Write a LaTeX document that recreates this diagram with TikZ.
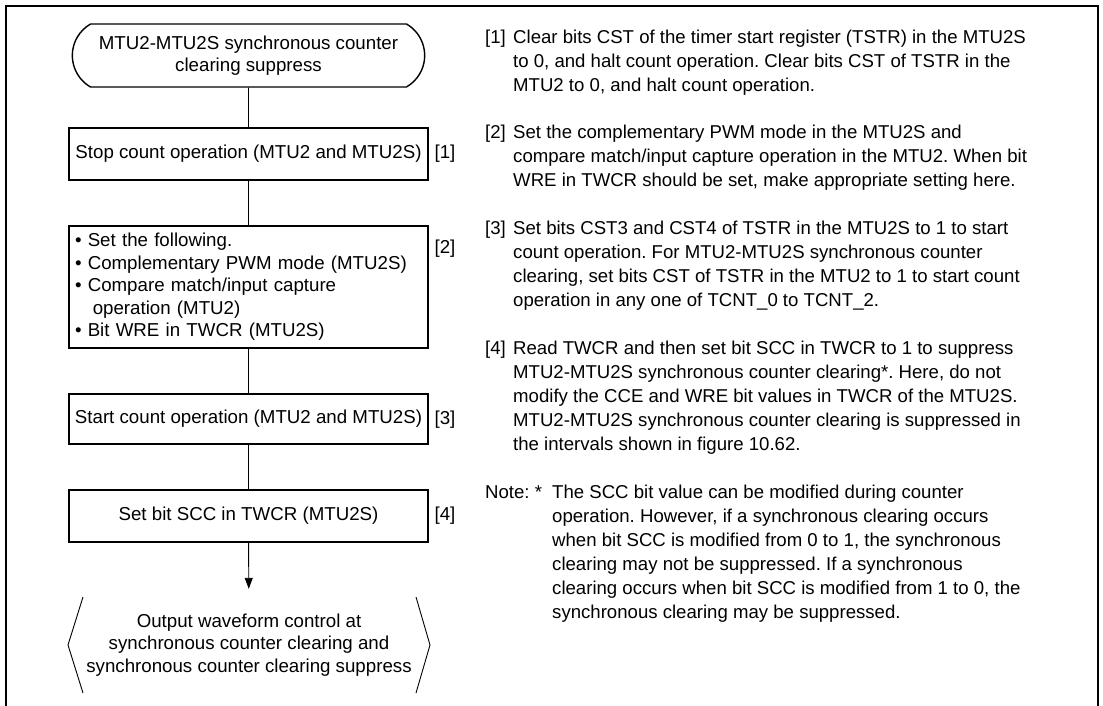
\documentclass[tikz,border=0pt]{standalone}
\usepackage{fontspec}
\setmainfont{Liberation Sans}
\usetikzlibrary{positioning,arrows.meta,calc,shapes.misc}

\newcommand{\bodyfont}{\fontsize{18.7}{22.5}\selectfont}
\newcommand{\notefont}{\fontsize{18.6}{24}\selectfont}
\frenchspacing

\begin{document}
\begin{tikzpicture}[
  x=1pt,y=-1pt,
  font=\bodyfont,
  >={Triangle[length=11pt,width=8pt]},
  frame/.style={line width=2pt},
  stepbox/.style={rectangle,draw,line width=1.8pt,minimum width=359pt,inner xsep=6pt},
  startbox/.style={rounded rectangle,rounded rectangle arc length=120,draw,line width=1.4pt,
                   minimum width=359pt,minimum height=63pt,align=center},
  link/.style={line width=0.9pt},
  tag/.style={inner sep=0pt},
  note/.style={font=\notefont,anchor=north west,inner sep=0pt,align=left},
]
\useasboundingbox (0,0) rectangle (1103,706);

%================================================================ FRAME ===
\draw[frame] (6,706) -- (6,6) -- (1098,6) -- (1098,706);

%============================================================== FLOWCHART ===
\node[startbox] (start) at (248.5,55.5)
  {MTU2-MTU2S synchronous counter\\clearing suppress};
\node[stepbox,minimum height=52pt] (stop) at (248.5,154)
  {Stop count operation (MTU2 and MTU2S)};
\node[stepbox,minimum height=122pt,text width=347pt,align=left] (setup) at (248.5,287)
  {\textbullet\ Set the following.\\
   \textbullet\ Complementary PWM mode (MTU2S)\\
   \textbullet\ Compare match/input capture\\
   \hspace*{0.95em}operation (MTU2)\\
   \textbullet\ Bit WRE in TWCR (MTU2S)};
\node[stepbox,minimum height=50pt] (run) at (248.5,419)
  {Start count operation (MTU2 and MTU2S)};
\node[stepbox,minimum height=52pt] (scc) at (248.5,516)
  {Set bit SCC in TWCR (MTU2S)};
\node[minimum width=361pt,minimum height=96pt,align=center] (out) at (249,645)
  {Output waveform control at\\synchronous counter clearing and\\synchronous counter clearing suppress};

% chevron sides of the output symbol
\draw[link] (83,597) -- (68,645) -- (83,693);
\draw[link] (416,597) -- (430,645) -- (416,693);

\draw[link] (start) -- (stop);
\draw[link] (stop) -- (setup);
\draw[link] (setup) -- (run);
\draw[link] (run) -- (scc);
\draw[link,->,shorten >=8pt] (scc) -- (out);

% step numbers
\node[tag] (t1) at (445,154) {[1]};
\node[tag] (t2) at (445,249) {[2]};
\node[tag] (t3) at (445,420) {[3]};
\node[tag] (t4) at (445,516) {[4]};

%================================================================= NOTES ===
\node[note] (k1) at (485,26.7) {\strut[1]};
\node[note] (n1) at (513,26.7)
  {\strut Clear bits CST of the timer start register (TSTR) in the MTU2S\\
   to 0, and halt count operation. Clear bits CST of TSTR in the\\
   MTU2 to 0, and halt count operation.};
\node[note] (k2) at (485,121.7) {\strut[2]};
\node[note] (n2) at (513,121.7)
  {\strut Set the complementary PWM mode in the MTU2S and\\
   compare match/input capture operation in the MTU2. When bit\\
   WRE in TWCR should be set, make appropriate setting here.};
\node[note] (k3) at (485,217.7) {\strut[3]};
\node[note] (n3) at (513,217.7)
  {\strut Set bits CST3 and CST4 of TSTR in the MTU2S to 1 to start\\
   count operation. For MTU2-MTU2S synchronous counter\\
   clearing, set bits CST of TSTR in the MTU2 to 1 to start count\\
   operation in any one of TCNT\_0 to TCNT\_2.};
\node[note] (k4) at (485,337.7) {\strut[4]};
\node[note] (n4) at (513,337.7)
  {\strut Read TWCR and then set bit SCC in TWCR to 1 to suppress\\
   MTU2-MTU2S synchronous counter clearing*. Here, do not\\
   modify the CCE and WRE bit values in TWCR of the MTU2S.\\
   MTU2-MTU2S synchronous counter clearing is suppressed in\\
   the intervals shown in figure 10.62.};
\node[note] (k5) at (485,481.7) {\strut Note: *};
\node[note] (n5) at (552,481.7)
  {\strut The SCC bit value can be modified during counter\\
   operation. However, if a synchronous clearing occurs\\
   when bit SCC is modified from 0 to 1, the synchronous\\
   clearing may not be suppressed. If a synchronous\\
   clearing occurs when bit SCC is modified from 1 to 0, the\\
   synchronous clearing may be suppressed.};

\end{tikzpicture}
\end{document}
